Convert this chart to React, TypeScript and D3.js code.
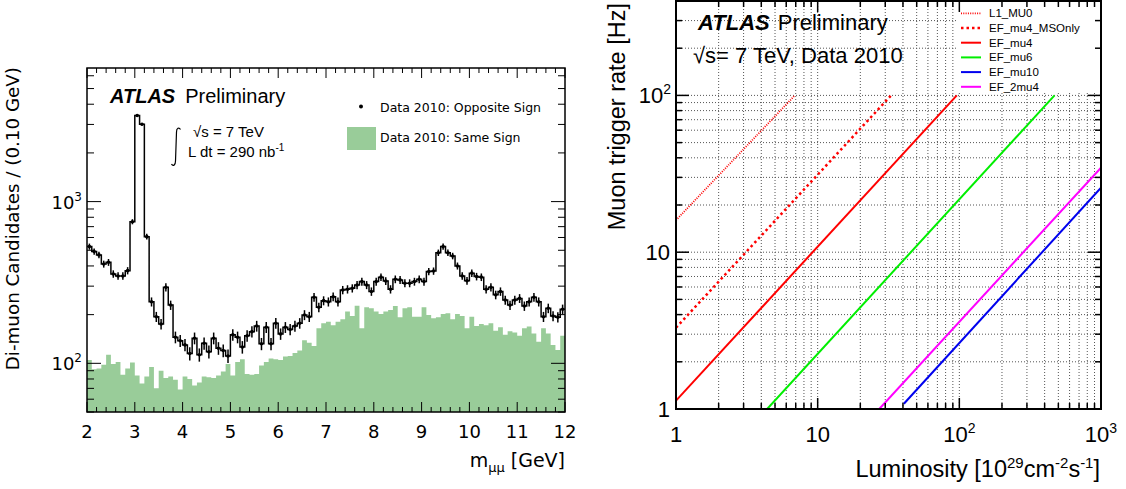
import React from "react";
import * as d3 from "d3";

// ---- left panel: di-muon invariant mass, 100 bins of 0.10 GeV from 2 to 12 GeV
const massLow = 2;
const binWidth = 0.1;
const oppositeSign = [
  527, 491, 468, 411, 421, 357, 347, 347, 374, 751,
  3404, 3010, 607, 240, 194, 175, 295, 229, 145, 138,
  130, 115, 143, 113, 133, 118, 143, 124, 120, 111,
  150, 145, 126, 148, 157, 170, 132, 167, 132, 177,
  152, 167, 162, 170, 177, 199, 194, 256, 222, 244,
  240, 258, 240, 284, 287, 291, 305, 320, 305, 278,
  320, 341, 323, 287, 331, 328, 313, 313, 320, 331,
  320, 369, 372, 483, 527, 483, 461, 400, 347, 324,
  361, 344, 341, 287, 295, 265, 278, 246, 229, 246,
  252, 226, 240, 256, 240, 194, 219, 196, 193, 216,
];
const sameSign = [
  105, 92, 93, 98, 113, 99, 102, 85, 93, 101,
  84, 75, 83, 95, 70, 90, 81, 83, 79, 69,
  83, 80, 73, 76, 83, 82, 81, 84, 89, 99,
  84, 102, 106, 86, 85, 86, 97, 102, 107, 106,
  105, 110, 111, 116, 120, 139, 134, 128, 165, 177,
  181, 172, 181, 187, 209, 196, 227, 165, 222, 219,
  209, 202, 209, 214, 226, 193, 219, 222, 194, 194,
  222, 199, 190, 193, 202, 204, 187, 202, 196, 165,
  194, 170, 175, 172, 177, 159, 167, 150, 158, 155,
  148, 165, 169, 153, 136, 165, 153, 130, 121, 148,
];
const massTicks = [2, 3, 4, 5, 6, 7, 8, 9, 10, 11, 12];
const countTicks = [
  { v: 100, exp: "2" },
  { v: 1000, exp: "3" },
];

// ---- right panel: muon trigger rates vs luminosity (end points)
type Pt = [number, number];
const triggers: { name: string; color: string; dash: string; width: number; pts: Pt[] }[] = [
  { name: "L1_MU0", color: "#ff0000", dash: "1 1.3", width: 1.8, pts: [[1, 16], [6.9, 100]] },
  { name: "EF_mu4_MSOnly", color: "#ff0000", dash: "2.5 3", width: 2.5, pts: [[1, 3.3], [33, 100]] },
  { name: "EF_mu4", color: "#ff0000", dash: "", width: 2, pts: [[1, 1.13], [96, 100]] },
  { name: "EF_mu6", color: "#00ee00", dash: "", width: 2, pts: [[4.4, 1], [470, 100]] },
  { name: "EF_mu10", color: "#0000ee", dash: "", width: 2, pts: [[40.6, 1.08], [1000, 25.8]] },
  { name: "EF_2mu4", color: "#ff00ff", dash: "", width: 2, pts: [[27.2, 1], [1000, 34.6]] },
];
const lumiTicks = [
  { v: 1, base: "1", exp: "" },
  { v: 10, base: "10", exp: "" },
  { v: 100, base: "10", exp: "2" },
  { v: 1000, base: "10", exp: "3" },
];
const rateTicks = [
  { v: 1, base: "1", exp: "" },
  { v: 10, base: "10", exp: "" },
  { v: 100, base: "10", exp: "2" },
];

const DV = "DejaVu Sans";
const LS = "Liberation Sans, Arial, Helvetica, sans-serif";

const MassPanel = () => {
  const x = d3.scaleLinear().domain([2, 12]).range([87, 565]);
  const y = d3.scaleLog().domain([50, 6700]).range([412, 68]);
  const [x0, x1] = x.range();
  const [y0, y1] = y.range();

  const step = (vals: number[]) => {
    let d = "";
    vals.forEach((v, i) => {
      const a = x(massLow + i * binWidth);
      const b = x(massLow + (i + 1) * binWidth);
      d += (i === 0 ? `M${a},${y(v)}` : `L${a},${y(v)}`) + `L${b},${y(v)}`;
    });
    return d;
  };
  const area = (vals: number[]) => {
    let d = `M${x0},${y0}`;
    vals.forEach((v, i) => {
      const a = x(massLow + i * binWidth);
      const b = x(massLow + (i + 1) * binWidth);
      d += `L${a},${y(v)}L${b},${y(v)}`;
    });
    return d + `L${x1},${y0}Z`;
  };

  const minorX = x.ticks(50);
  const minorY = y.ticks().filter((v) => v >= 50 && v <= 6700);

  return (
    <g>
      <path d={area(sameSign)} fill="#99cc99" />
      <path d={step(oppositeSign)} fill="none" stroke="#000" strokeWidth={1.5} />
      {oppositeSign.map((v, i) => {
        const cx = x(massLow + (i + 0.5) * binWidth);
        const e = Math.sqrt(v);
        return (
          <g key={i}>
            <line x1={cx} x2={cx} y1={y(v + e)} y2={y(v - e)} stroke="#000" strokeWidth={1.5} />
            <circle cx={cx} cy={y(v)} r={1.8} fill="#000" />
          </g>
        );
      })}
      {/* ticks */}
      {minorX.map((t) => {
        const major = Math.abs(t - Math.round(t)) < 1e-6;
        const len = major ? 10 : 5;
        return (
          <g key={"mx" + t}>
            <line x1={x(t)} x2={x(t)} y1={y0} y2={y0 - len} stroke="#000" />
            <line x1={x(t)} x2={x(t)} y1={y1} y2={y1 + len} stroke="#000" />
          </g>
        );
      })}
      {minorY.map((t) => {
        const major = t === 100 || t === 1000;
        const len = major ? 14 : 7;
        return (
          <g key={"my" + t}>
            <line x1={x0} x2={x0 + len} y1={y(t)} y2={y(t)} stroke="#000" />
            <line x1={x1} x2={x1 - len} y1={y(t)} y2={y(t)} stroke="#000" />
          </g>
        );
      })}
      <rect x={x0} y={y1} width={x1 - x0} height={y0 - y1} fill="none" stroke="#000" strokeWidth={1.5} />
      {massTicks.map((t) => (
        <text key={"lx" + t} x={x(t)} y={438} textAnchor="middle" fontFamily={DV} fontSize={18}>
          {t}
        </text>
      ))}
      {countTicks.map((t) => (
        <text key={"ly" + t.v} x={82} y={y(t.v) + 7} textAnchor="end" fontFamily={DV} fontSize={18}>
          10<tspan dy={-8} fontSize={12}>{t.exp}</tspan>
        </text>
      ))}
      <text transform="translate(19,67) rotate(-90)" textAnchor="end" fontFamily={DV} fontSize={18.3}>
        Di-muon Candidates / (0.10 GeV)
      </text>
      <text x={565} y={467} textAnchor="end" fontFamily={DV} fontSize={19}>
        m<tspan dy={5} fontSize={13}>μμ</tspan>
        <tspan dy={-5}> [GeV]</tspan>
      </text>
      {/* labels */}
      <text x={110} y={103} fontFamily={LS} fontSize={20}>
        <tspan fontWeight="bold" fontStyle="italic">ATLAS</tspan>
        <tspan dx={10}>Preliminary</tspan>
      </text>
      <path
        d="M180.5,129.5 C179,127 176.5,128 176.5,132 L175.5,161 C175.5,165.5 173,166.5 171.5,164"
        fill="none"
        stroke="#000"
        strokeWidth={1.2}
      />
      <text x={193} y={137} fontFamily={LS} fontSize={15}>√s = 7 TeV</text>
      <text x={188} y={157} fontFamily={LS} fontSize={15}>
        L dt = 290 nb<tspan dy={-6} fontSize={10}>-1</tspan>
      </text>
      <circle cx={361} cy={106.5} r={2} fill="#000" />
      <text x={380} y={112} fontFamily={DV} fontSize={12.5}>Data 2010: Opposite Sign</text>
      <rect x={347} y={127} width={29} height={23} fill="#99cc99" />
      <text x={380} y={141.5} fontFamily={DV} fontSize={12.5}>Data 2010: Same Sign</text>
    </g>
  );
};

const RatePanel = () => {
  const x = d3.scaleLog().domain([1, 1000]).range([676, 1101]);
  const y = d3.scaleLog().domain([1, 400]).range([409, 1]);
  const [x0, x1] = x.range();
  const [y0, y1] = y.range();
  const line = d3
    .line<Pt>()
    .x((d) => x(d[0]))
    .y((d) => y(d[1]));
  const gx = x.ticks();
  const gy = y.ticks().filter((v) => v <= 400);
  const isMajor = (v: number) => Math.abs(Math.log10(v) - Math.round(Math.log10(v))) < 1e-9;

  return (
    <g fontFamily={LS}>
      <defs>
        <clipPath id="rateClip">
          <rect x={x0} y={y1} width={x1 - x0} height={y0 - y1} />
        </clipPath>
      </defs>
      {gx.map((t) => (
        <line key={"gx" + t} x1={x(t)} x2={x(t)} y1={y0} y2={y1} stroke="#555" strokeWidth={1} strokeDasharray="1 2" />
      ))}
      {gy.map((t) => (
        <line key={"gy" + t} x1={x0} x2={x1} y1={y(t)} y2={y(t)} stroke="#555" strokeWidth={1} strokeDasharray="1 2" />
      ))}
      <g clipPath="url(#rateClip)">
        {triggers.map((s) => (
          <path key={s.name} d={line(s.pts) || ""} fill="none" stroke={s.color} strokeWidth={s.width} strokeDasharray={s.dash || undefined} />
        ))}
      </g>
      {/* legend */}
      <rect x={957} y={2} width={143} height={91} fill="#fff" />
      {triggers.map((s, i) => {
        const ly = 13.3 + i * 14.7;
        return (
          <g key={"lg" + s.name}>
            <line x1={961} x2={981} y1={ly} y2={ly} stroke={s.color} strokeWidth={s.width} strokeDasharray={s.dash || undefined} />
            <text x={989} y={ly + 4} fontSize={11.5}>{s.name}</text>
          </g>
        );
      })}
      {/* ticks */}
      {gx.map((t) => {
        const len = isMajor(t) ? 11 : 6;
        return (
          <g key={"tx" + t}>
            <line x1={x(t)} x2={x(t)} y1={y0} y2={y0 - len} stroke="#000" strokeWidth={1.5} />
            <line x1={x(t)} x2={x(t)} y1={y1} y2={y1 + len} stroke="#000" strokeWidth={1.5} />
          </g>
        );
      })}
      {gy.map((t) => {
        const len = isMajor(t) ? 13 : 6;
        return (
          <g key={"ty" + t}>
            <line x1={x0} x2={x0 + len} y1={y(t)} y2={y(t)} stroke="#000" strokeWidth={1.5} />
            <line x1={x1} x2={x1 - len} y1={y(t)} y2={y(t)} stroke="#000" strokeWidth={1.5} />
          </g>
        );
      })}
      <rect x={x0} y={y1} width={x1 - x0} height={y0 - y1} fill="none" stroke="#000" strokeWidth={2} />
      {lumiTicks.map((t) => (
        <text key={"lx" + t.v} x={x(t.v)} y={442} textAnchor="middle" fontSize={22}>
          {t.base}
          {t.exp && <tspan dy={-9} fontSize={14}>{t.exp}</tspan>}
        </text>
      ))}
      {rateTicks.map((t) => (
        <text key={"ly" + t.v} x={t.exp ? 671 : 670} y={y(t.v) + 8} textAnchor="end" fontSize={22}>
          {t.base}
          {t.exp && <tspan dy={-9} fontSize={14}>{t.exp}</tspan>}
        </text>
      ))}
      <text transform="translate(625,3) rotate(-90)" textAnchor="end" fontSize={23.5}>
        Muon trigger rate [Hz]
      </text>
      <text x={1100} y={477} textAnchor="end" fontSize={23.5}>
        Luminosity [10<tspan dy={-9} fontSize={15}>29</tspan>
        <tspan dy={9}>cm</tspan>
        <tspan dy={-9} fontSize={15}>-2</tspan>
        <tspan dy={9}>s</tspan>
        <tspan dy={-9} fontSize={15}>-1</tspan>
        <tspan dy={9}>]</tspan>
      </text>
      <text x={698} y={30} fontSize={22}>
        <tspan fontWeight="bold" fontStyle="italic">ATLAS</tspan>
        <tspan dx={8}>Preliminary</tspan>
      </text>
      <text x={693} y={63} fontSize={22}>√s= 7 TeV, Data 2010</text>
    </g>
  );
};

export default function App() {
  return (
    <svg
      width={1126}
      height={489}
      style={{ position: "absolute", left: 0, top: 0, background: "#fff" }}
    >
      <rect width={1126} height={489} fill="#fff" />
      <MassPanel />
      <RatePanel />
    </svg>
  );
}
